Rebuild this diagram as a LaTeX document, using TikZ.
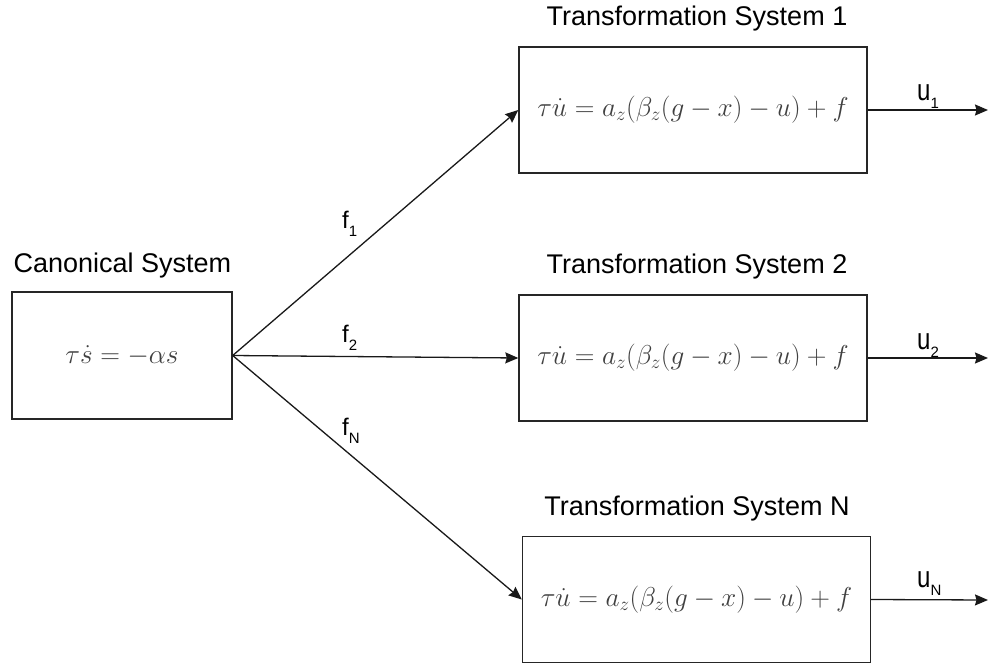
\documentclass[tikz,border=0pt]{standalone}
\usepackage{fix-cm}
\usepackage[no-math]{fontspec}
\setmainfont{Liberation Sans}
\usepackage{graphicx}
\usetikzlibrary{arrows.meta}
% signal label: letter with a lowered small index
\newcommand\siglab[3]{\scalebox{1}[#3]{#1}\raisebox{-8pt}{\fontsize{15}{15}\selectfont #2}}
\begin{document}
\begin{tikzpicture}[x=1pt,y=-1pt,
  sysbox/.style={draw=black!85, line width=1.4pt, minimum width=348pt,
    minimum height=126pt, inner sep=0pt, text=black!75,
    font=\fontsize{27.3}{32}\selectfont},
  canbox/.style={sysbox, minimum width=220pt, minimum height=127pt},
  title/.style={font=\fontsize{27}{32}\selectfont, inner sep=0pt, anchor=base},
  sig/.style={font=\fontsize{24}{28}\selectfont, inner sep=0pt, anchor=base west},
  conn/.style={line width=1.3pt, draw=black!90,
    -{Stealth[length=13pt, width=11pt, inset=1.5pt]}}]
\useasboundingbox (0,0) rectangle (989,664);

% blocks
\node[canbox] (can) at (122,355.5) {$\tau\dot{s} = -\alpha s$};
\node[sysbox] (ts1) at (693,110) {$\tau\dot{u} = a_z(\beta_z(g-x)-u)+f$};
\node[sysbox] (ts2) at (693,358) {$\tau\dot{u} = a_z(\beta_z(g-x)-u)+f$};
\node[sysbox] (tsN) at (696.5,599.5) {$\tau\dot{u} = a_z(\beta_z(g-x)-u)+f$};

% block titles
\node[title] (tcan) at (122.5,272) {Canonical System};
\node[title] (tts1) at (697,25) {Transformation System 1};
\node[title] (tts2) at (697,273) {Transformation System 2};
\node[title] (ttsN) at (697,515) {Transformation System N};

% forcing terms from the canonical system
\draw[conn] (can.east) -- (ts1.west);
\draw[conn] (can.east) -- (ts2.west);
\draw[conn] (can.east) -- (tsN.west);
\node[sig] (f1) at (342,228) {\siglab{f}{1}{1}};
\node[sig] (f2) at (342,342) {\siglab{f}{2}{1}};
\node[sig] (fN) at (342,435) {\siglab{f}{N}{1}};

% outputs
\coordinate (o1) at (988,110);
\coordinate (o2) at (988,358);
\coordinate (oN) at (988,600);
\draw[conn] (ts1.east) -- (o1);
\draw[conn] (ts2.east) -- (o2);
\draw[conn] (tsN.east) -- (oN);
\node[sig] (u1) at (917,100) {\siglab{u}{1}{1.25}};
\node[sig] (u2) at (917,349) {\siglab{u}{2}{1.25}};
\node[sig] (uN) at (917,587) {\siglab{u}{N}{1.25}};
\end{tikzpicture}
\end{document}
